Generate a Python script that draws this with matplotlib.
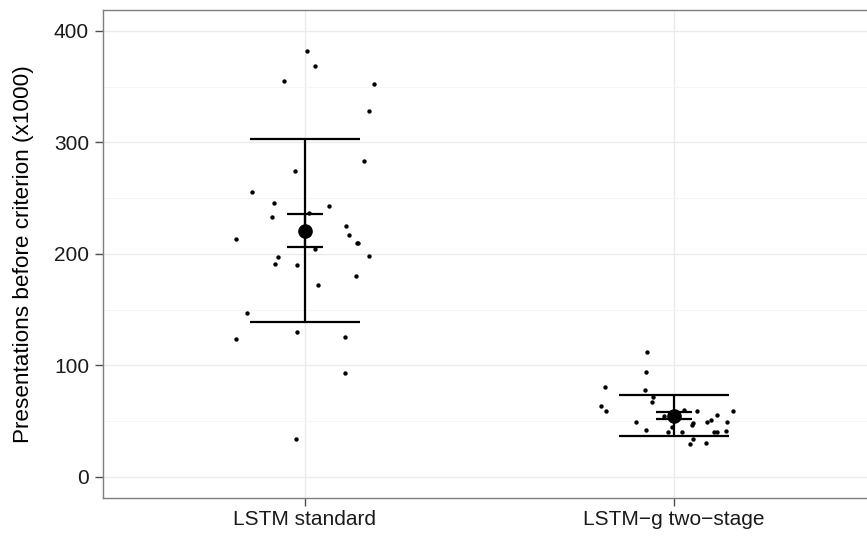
import numpy as np
import matplotlib
matplotlib.use("Agg")
import matplotlib.pyplot as plt
from matplotlib.ticker import MultipleLocator

plt.rcParams['font.family'] = ['Liberation Sans', 'DejaVu Sans']

categories = ["LSTM standard", "LSTM\u2212g two\u2212stage"]

# presentations before criterion (x1000), one value per run
standard_vals = [382, 369, 355, 352, 328.5, 283.7, 274.7, 255.9, 246, 243.3,
                 233.5, 236.5, 213.7, 225.4, 217.3, 209.4, 210.1, 204.7, 197.6, 191.3,
                 190.4, 198.5, 180.5, 172.5, 147.4, 130.3, 124, 125.8, 93.5, 34.3]
standard_jit = [0.005, 0.026, -0.056, 0.188, 0.174, 0.161, -0.026, -0.144, -0.083, 0.066,
                -0.089, 0.012, -0.187, 0.112, 0.120, 0.142, 0.144, 0.026, -0.072, -0.080,
                -0.021, 0.174, 0.138, 0.036, -0.158, -0.021, -0.188, 0.108, 0.109, -0.025]

twostage_vals = [112.4, 94.5, 80.4, 78.3, 72, 67, 63.4, 58.9, 60.4, 59.5,
                 58.9, 55.9, 55, 49, 48.2, 46.6, 49, 51.1, 49, 45.1,
                 41.9, 40.6, 40.1, 40.1, 40.1, 41, 33.8, 29.9, 30.8, 56]
twostage_jit = [-0.073, -0.076, -0.187, -0.079, -0.056, -0.060, -0.198, -0.185, 0.028, 0.062,
                0.160, 0.116, -0.026, -0.102, 0.051, 0.048, 0.090, 0.101, 0.144, -0.005,
                -0.076, -0.017, 0.021, 0.108, 0.116, 0.142, 0.052, 0.044, 0.088, 0.0]

groups = [(standard_vals, standard_jit), (twostage_vals, twostage_jit)]

fig = plt.figure(figsize=(8.67, 5.36), dpi=100)
W, H = 867.0, 536.0
ax = fig.add_axes([103 / W, (H - 497.7) / H, 770 / W, 487.7 / H])

ax.set_xlim(0.4526, 0.4526 + 770 / 369.0)
ax.set_ylim(-18.6, 418.8)

ax.yaxis.set_major_locator(MultipleLocator(100))
ax.yaxis.set_minor_locator(MultipleLocator(50))
ax.set_xticks([1, 2])
ax.set_xticklabels(categories)

ax.grid(which='major', color='#ebebeb', linewidth=1.0, zorder=0)
ax.grid(which='minor', axis='y', color='#f5f5f5', linewidth=0.8, zorder=0)
ax.set_axisbelow(True)

for s in ax.spines.values():
    s.set_color('#7f7f7f')
    s.set_linewidth(1.0)

ax.tick_params(which='major', length=6, width=1.0, color='#4d4d4d',
               labelsize=15, labelcolor='#1a1a1a')
ax.tick_params(axis='y', pad=4)
ax.tick_params(axis='x', pad=2.5)
ax.tick_params(which='minor', length=0)

for i, (vals, jit) in enumerate(groups):
    pos = i + 1
    v = np.array(vals)
    ax.scatter(pos + np.array(jit), v, s=10, color='black', zorder=3, linewidths=0)

    m = v.mean()
    sd = v.std(ddof=1)
    se = sd / np.sqrt(len(v))
    # sd bars
    ax.errorbar(pos, m, yerr=sd, fmt='none', ecolor='black', elinewidth=1.6,
                capsize=55 / 1.389, capthick=1.6, zorder=4)
    # se bars
    ax.errorbar(pos, m, yerr=se, fmt='none', ecolor='black', elinewidth=1.6,
                capsize=18 / 1.389, capthick=1.6, zorder=4)
    ax.plot(pos, m, 'o', color='black', markersize=9.5, zorder=5)

ax.set_ylabel("Presentations before criterion (x1000)", fontsize=16.2, color='black')
ax.yaxis.set_label_coords((34 - 103) / 770.0, 0.5)

fig.savefig("out.png", dpi=100)
